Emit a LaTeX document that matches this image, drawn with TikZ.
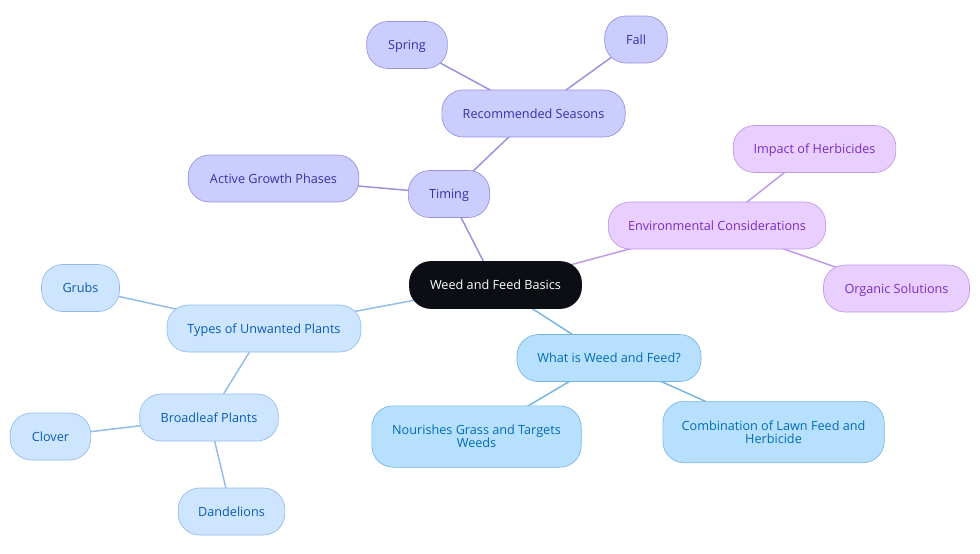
\documentclass[tikz,border=0pt]{standalone}
\usepackage{fontspec}
\setmainfont{Open Sans}
\usetikzlibrary{backgrounds}
\definecolor{inkblack}{RGB}{11, 15, 20}
\definecolor{indigofill}{RGB}{204, 205, 255}
\definecolor{indigoline}{RGB}{150, 146, 222}
\definecolor{indigotext}{RGB}{55, 48, 163}
\definecolor{violetfill}{RGB}{233, 207, 255}
\definecolor{violetline}{RGB}{192, 152, 228}
\definecolor{violettext}{RGB}{122, 44, 190}
\definecolor{azurefill}{RGB}{206, 229, 255}
\definecolor{azureline}{RGB}{146, 188, 234}
\definecolor{azuretext}{RGB}{10, 92, 176}
\definecolor{skyfill}{RGB}{183, 224, 255}
\definecolor{skyline}{RGB}{118, 180, 226}
\definecolor{skytext}{RGB}{0, 108, 178}
\tikzset{
    mapnode/.style={draw, line width=0.5pt, rounded corners=16pt, inner sep=0pt, minimum height=35.25pt,
                    text height=7.2pt, text depth=0pt, align=center, font=\fontsize{9.5}{10.1}\selectfont},
    twolines/.style={text height={}, text depth={}, minimum height=46pt},
    rootnode/.style={mapnode, draw=inkblack, fill=inkblack, text=white},
    timingnode/.style={mapnode, draw=indigoline, fill=indigofill, text=indigotext},
    envnode/.style={mapnode, draw=violetline, fill=violetfill, text=violettext},
    plantnode/.style={mapnode, draw=azureline, fill=azurefill, text=azuretext},
    whatnode/.style={mapnode, draw=skyline, fill=skyfill, text=skytext},
    timingedge/.style={draw=indigoline, line width=1.1pt},
    envedge/.style={draw=violetline, line width=1.1pt},
    plantedge/.style={draw=azureline, line width=1.1pt},
    whatedge/.style={draw=skyline, line width=1.1pt},
}
\begin{document}
\begin{tikzpicture}[x=0.75pt, y=-0.75pt]
            \useasboundingbox (0,0) rectangle (980,553);
            \node[rootnode,   minimum width=129pt]    (root)    at (495.5,285.0) {Weed and Feed Basics};
            \node[timingnode, minimum width=61pt]     (timing)  at (449.0,194.0) {Timing};
            \node[timingnode, minimum width=128pt]    (active)  at (273.5,178.5) {Active Growth Phases};
            \node[timingnode, minimum width=137.5pt]  (seasons) at (533.5,113.5) {Recommended Seasons};
            \node[timingnode, minimum width=60.5pt]   (spring)  at (407.0, 45.0) {Spring};
            \node[timingnode, minimum width=47pt]     (fall)    at (636.0, 39.5) {Fall};
            \node[envnode,    minimum width=163pt]    (env)     at (717.0,225.5) {Environmental Considerations};
            \node[envnode,    minimum width=122pt]    (impact)  at (814.5,149.0) {Impact of Herbicides};
            \node[envnode,    minimum width=109.5pt]  (organic) at (896.5,288.5) {Organic Solutions};
            \node[plantnode,  minimum width=145.5pt]  (types)   at (264.0,328.5) {Types of Unwanted Plants};
            \node[plantnode,  minimum width=58.5pt]   (grubs)   at ( 80.5,288.0) {Grubs};
            \node[plantnode,  minimum width=104pt]    (broad)   at (209.0,417.5) {Broadleaf Plants};
            \node[plantnode,  minimum width=60.5pt]   (clover)  at ( 50.5,436.5) {Clover};
            \node[plantnode,  minimum width=80pt]     (dand)    at (231.5,511.5) {Dandelions};
            \node[whatnode,   minimum width=138pt]    (what)    at (609.0,358.0) {What is Weed and Feed?};
            \node[whatnode,   twolines, minimum width=157pt] (grass) at (476.5,436.5) {Nourishes Grass and Targets\\Weeds};
            \node[whatnode,   twolines, minimum width=166pt] (combo) at (773.5,432.0) {Combination of Lawn Feed and\\Herbicide};
            \begin{scope}[on background layer]
                \draw[timingedge] (root.center)    -- (timing.center);
                \draw[timingedge] (timing.center)  -- (active.center);
                \draw[timingedge] (timing.center)  -- (seasons.center);
                \draw[timingedge] (seasons.center) -- (spring.center);
                \draw[timingedge] (seasons.center) -- (fall.center);
                \draw[envedge]    (root.center)    -- (env.center);
                \draw[envedge]    (env.center)     -- (impact.center);
                \draw[envedge]    (env.center)     -- (organic.center);
                \draw[plantedge]  (root.center)    -- (types.center);
                \draw[plantedge]  (types.center)   -- (grubs.center);
                \draw[plantedge]  (types.center)   -- (broad.center);
                \draw[plantedge]  (broad.center)   -- (clover.center);
                \draw[plantedge]  (broad.center)   -- (dand.center);
                \draw[whatedge]   (root.center)    -- (what.center);
                \draw[whatedge]   (what.center)    -- (grass.center);
                \draw[whatedge]   (what.center)    -- (combo.center);
            \end{scope}
        \end{tikzpicture}
\end{document}
